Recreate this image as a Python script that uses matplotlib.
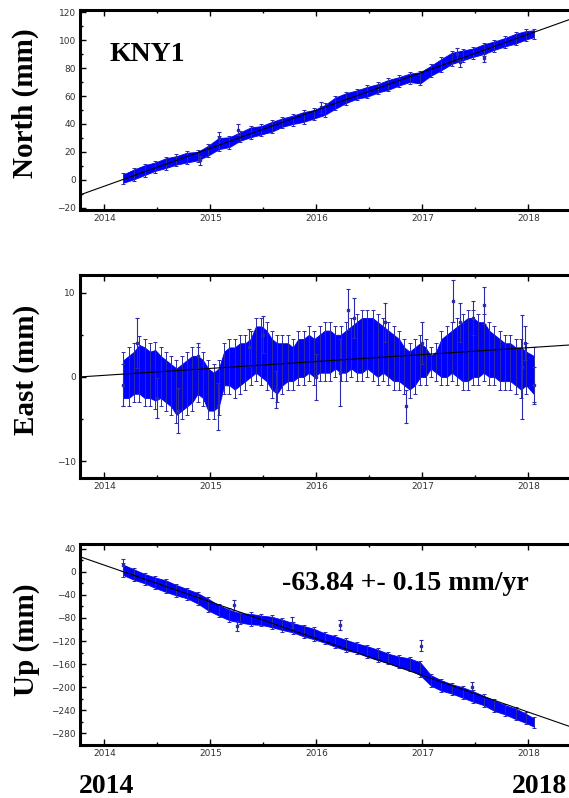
import numpy as np
import matplotlib
matplotlib.use("Agg")
import matplotlib.pyplot as plt
from matplotlib.ticker import MultipleLocator

# north component, samples every 0.1 yr
north_t = [2014.18, 2014.28, 2014.38, 2014.48, 2014.58, 2014.68, 2014.78, 2014.88, 2014.98, 2015.08,
           2015.18, 2015.28, 2015.38, 2015.48, 2015.58, 2015.68, 2015.78, 2015.88, 2015.98, 2016.08,
           2016.18, 2016.28, 2016.38, 2016.48, 2016.58, 2016.68, 2016.78, 2016.88, 2016.98, 2017.08,
           2017.18, 2017.28, 2017.38, 2017.48, 2017.58, 2017.68, 2017.78, 2017.88, 2017.98, 2018.05]
north_mm = [1, 4, 7, 9.5, 12, 14, 16, 17, 21, 26,
            27, 31, 34, 35.5, 38, 41, 43, 45, 47, 50,
            55, 58.5, 61, 63, 65.5, 68, 70.5, 73, 73, 78,
            82.5, 87, 89, 91, 93.5, 96, 98.5, 101, 103.5, 104.5]
north_half = [3, 3.5, 3.5, 3, 3.5, 3, 3.5, 3, 3.5, 4,
              3.5, 3, 3.5, 3, 3.5, 3, 3, 3.5, 3, 3.5,
              4, 3.5, 3, 3.5, 3, 3.5, 3, 3, 4, 3.5,
              4, 4, 3.5, 3, 3.5, 3, 3, 3.5, 3, 2.5]
north_out_t = [2015.08, 2015.26, 2016.04, 2017.33, 2017.36, 2017.58, 2014.9]
north_out_v = [30, 36, 52, 90, 84, 87, 14]
north_out_e = [4, 4, 4, 4, 3, 3, 3]
north_fit = [-10.7, 115.0]   # line end values at 2013.77 and 2018.40

# east component, envelope every 0.05 yr
east_t = [2014.18, 2014.23, 2014.28, 2014.33, 2014.38, 2014.43, 2014.48, 2014.53, 2014.58, 2014.63,
          2014.68, 2014.73, 2014.78, 2014.83, 2014.88, 2014.93, 2014.98, 2015.03, 2015.08, 2015.13,
          2015.18, 2015.23, 2015.28, 2015.33, 2015.38, 2015.43, 2015.48, 2015.53, 2015.58, 2015.63,
          2015.68, 2015.73, 2015.78, 2015.83, 2015.88, 2015.93, 2015.98, 2016.03, 2016.08, 2016.13,
          2016.18, 2016.23, 2016.28, 2016.33, 2016.38, 2016.43, 2016.48, 2016.53, 2016.58, 2016.63,
          2016.68, 2016.73, 2016.78, 2016.83, 2016.88, 2016.93, 2016.98, 2017.03, 2017.08, 2017.13,
          2017.18, 2017.23, 2017.28, 2017.33, 2017.38, 2017.43, 2017.48, 2017.53, 2017.58, 2017.63,
          2017.68, 2017.73, 2017.78, 2017.83, 2017.88, 2017.93, 2017.98, 2018.05]
east_hi = [2.0, 2.5, 3.0, 3.8, 3.5, 3.0, 3.2, 2.5, 2.0, 1.5,
           1.0, 1.5, 2.0, 2.5, 2.5, 2.0, 1.0, 0.5, 1.0, 3.0,
           3.5, 3.5, 4.0, 4.0, 4.5, 6.0, 6.0, 5.5, 4.5, 4.0,
           4.0, 4.0, 3.5, 4.5, 4.5, 5.0, 4.5, 5.0, 5.5, 5.5,
           5.0, 5.0, 5.5, 6.0, 6.5, 7.0, 7.0, 7.0, 6.5, 6.0,
           5.5, 5.0, 4.5, 3.5, 3.0, 3.5, 4.0, 3.5, 2.5, 3.0,
           4.5, 5.0, 5.5, 6.0, 6.5, 7.0, 7.0, 6.5, 6.5, 5.5,
           5.0, 4.5, 4.0, 4.0, 3.5, 3.5, 3.0, 2.5]
east_lo = [-2.5, -2.5, -2.0, -2.0, -2.5, -2.5, -2.8, -2.5, -3.0, -3.5,
           -4.5, -4.0, -3.5, -3.0, -2.0, -2.5, -4.0, -4.0, -3.5, -1.0,
           -1.0, -1.5, -1.0, -0.5, 0.0, 0.5, 0.0, -0.5, -1.5, -2.0,
           -1.0, -0.5, -0.5, 0.0, 0.0, 0.5, 0.0, 0.5, 0.5, 0.5,
           1.0, 0.5, 0.5, 1.0, 0.5, 0.5, 1.0, 0.5, 0.0, 0.5,
           0.0, -0.5, -0.5, -1.0, -1.5, -1.0, 0.0, 0.0, 1.0, 0.5,
           0.0, 0.0, 0.5, 0.0, -0.5, -0.5, 0.0, 0.0, 0.5, 0.0,
           0.0, -0.5, -0.5, -0.5, -1.0, -1.5, -1.0, -2.0]
east_out_t = [2014.18, 2014.31, 2014.50, 2014.69, 2015.07, 2015.36, 2015.50, 2015.62, 2016.00, 2016.22,
              2016.30, 2016.36, 2016.65, 2016.85, 2017.00, 2017.29, 2017.36, 2017.48, 2017.58, 2017.94,
              2017.97, 2018.05, 2014.88]
east_out_v = [-1.0, 4.0, -2.5, -4.0, -3.5, 3.5, 5.0, -1.5, 0.0, 0.5,
              8.0, 7.0, 6.5, -3.5, 4.0, 9.0, 6.5, 7.0, 8.5, 1.2,
              4.0, -1.0, 2.5]
east_out_e = [2.5, 3.0, 2.4, 2.7, 2.8, 2.2, 2.2, 2.2, 2.7, 4.0,
              2.4, 2.4, 2.3, 2.0, 2.5, 2.5, 2.3, 2.0, 2.2, 6.2,
              2.0, 2.2, 1.5]
east_fit = [0.0, 3.8]

# up component, samples every 0.1 yr
up_t = north_t
up_mm = [3, -5, -12, -19, -25, -32, -38, -46, -57, -67,
         -75, -80, -82, -84, -87, -92, -97, -103, -108, -115,
         -121, -127, -132, -138, -144, -150, -156, -160, -168, -188,
         -197, -203, -209, -216, -223, -232, -239, -246, -254, -261]
up_half = [9, 9, 8, 9, 10, 9, 8, 9, 10, 9,
           9, 8, 9, 8, 9, 9, 8, 9, 9, 8,
           9, 9, 8, 9, 9, 8, 9, 10, 11, 9,
           9, 8, 9, 9, 8, 9, 8, 9, 8, 7]
up_out_t = [2014.18, 2015.22, 2015.25, 2015.77, 2016.22, 2016.99, 2017.47]
up_out_v = [12, -58, -94, -88, -92, -128, -200]
up_out_e = [10, 9, 9, 9, 9, 10, 9]
up_fit = [26.0, -268.5]

fit_t = [2013.77, 2018.40]

years = [2014, 2015, 2016, 2017, 2018]

blue = "#0000ff"
ebc = "#2b2ba8"

fig = plt.figure(figsize=(5.69, 7.98), dpi=100)
W, H = 569.0, 798.0


def add_panel(top, bottom):
    # axes goes past right side of the figure like in the original
    return fig.add_axes([80 / W, 1 - bottom / H, 496 / W, (bottom - top) / H])


def draw(ax, t, mid, half, out_t, out_v, out_e, fit, ylim, major, minor, margin):
    t = np.array(t)
    mid = np.array(mid, dtype=float)
    half = np.array(half, dtype=float)
    ax.fill_between(t, mid - half, mid + half, color=blue, lw=0.6, edgecolor=blue, zorder=2)
    ax.errorbar(t, mid, yerr=half + margin, fmt="none", ecolor=ebc,
                elinewidth=0.7, capsize=1.3, capthick=0.7, zorder=3)
    ax.errorbar(out_t, out_v, yerr=out_e, fmt="s", ms=1.8, color=ebc, ecolor=ebc,
                elinewidth=0.8, capsize=1.5, capthick=0.8, zorder=3)
    ax.plot(fit_t, fit, color="black", lw=0.8, zorder=5)
    ax.set_xlim(2013.77, 2018.45)
    ax.set_ylim(*ylim)
    ax.set_xticks(years)
    ax.xaxis.set_minor_locator(MultipleLocator(0.5))
    ax.yaxis.set_major_locator(MultipleLocator(major))
    ax.yaxis.set_minor_locator(MultipleLocator(minor))
    ax.tick_params(which="both", direction="in", top=True, right=False,
                   labelsize=6.5, labelcolor="#333333", width=1.0)
    ax.tick_params(which="major", length=4, pad=3)
    ax.tick_params(which="minor", length=2.5)
    for s in ax.spines.values():
        s.set_linewidth(2.2)


ax1 = add_panel(10, 210)
draw(ax1, north_t, north_mm, north_half, north_out_t, north_out_v, north_out_e,
     north_fit, (-21.5, 121.5), 20, 10, 1.2)

ax2 = add_panel(275, 478)
e_mid = [(a + b) / 2 for a, b in zip(east_lo, east_hi)]
e_half = [(b - a) / 2 for a, b in zip(east_lo, east_hi)]
draw(ax2, east_t, e_mid, e_half, east_out_t, east_out_v, east_out_e,
     east_fit, (-12.0, 12.1), 10, 5, 1.0)

ax3 = add_panel(544, 745)
draw(ax3, up_t, up_mm, up_half, up_out_t, up_out_v, up_out_e,
     up_fit, (-300, 48), 40, 20, 2.5)

serif = ["Liberation Serif", "DejaVu Serif"]
lab = dict(family=serif, fontweight="bold", fontsize=21, rotation=90, ha="center", va="center")
fig.text(25 / W, 1 - 103 / H, "North (mm)", **lab)
fig.text(27 / W, 1 - 370 / H, "East (mm)", **lab)
fig.text(27 / W, 1 - 640 / H, "Up (mm)", **lab)

big = dict(family=serif, fontweight="bold", fontsize=20, va="baseline")
fig.text(110 / W, 1 - 61 / H, "KNY1", ha="left", **big)
fig.text(282 / W, 1 - 590 / H, "-63.84 +- 0.15 mm/yr", ha="left", **big)
fig.text(79 / W, 1 - 793 / H, "2014", ha="left", **big)
fig.text(567 / W, 1 - 793 / H, "2018", ha="right", **big)

fig.savefig("out.png", dpi=100)
